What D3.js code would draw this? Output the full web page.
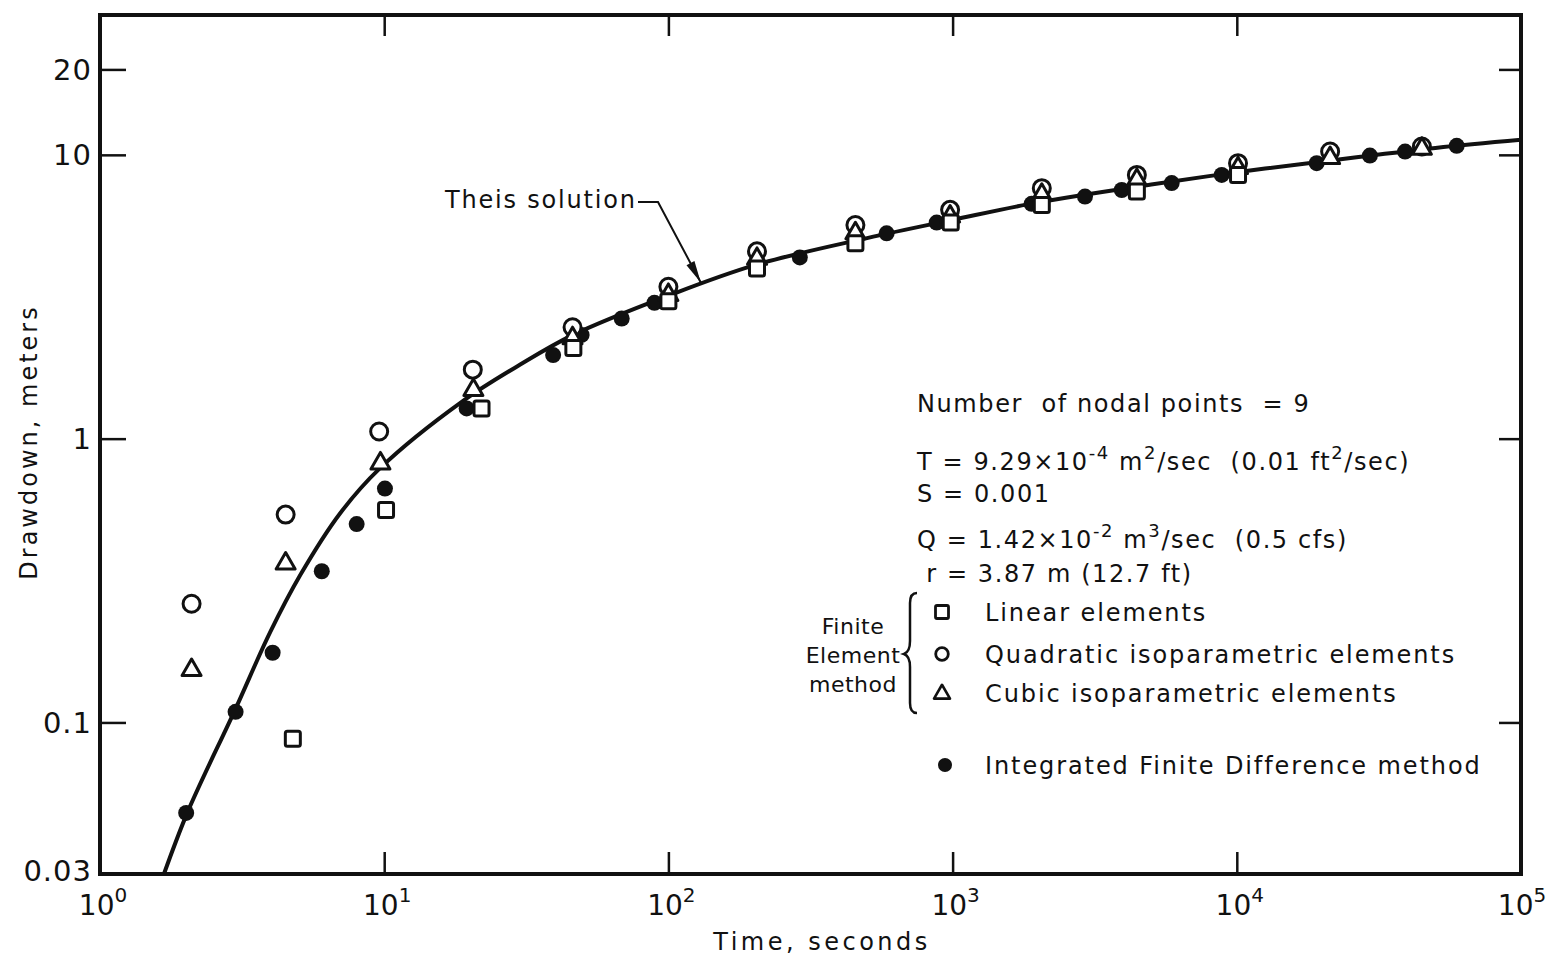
<!DOCTYPE html>
<html><head><meta charset="utf-8">
<script src="https://cdn.jsdelivr.net/npm/d3@7"></script>
<style>
body{margin:0;background:#fff;}
svg{display:block;}
text{font-family:"DejaVu Sans",sans-serif;fill:#111;}
</style></head><body>
<svg id="chart" width="1548" height="964"></svg>
<script>
// ---- Data ----
const theisTime     = [1.68, 2.04, 2.99, 3.97, 5.06, 7.0, 9.67, 18.9, 30, 46.2, 100, 200, 500, 1000, 2000, 5000, 10000, 20000, 50000, 100000];
const theisDrawdown = [0.0293, 0.0487, 0.111, 0.208, 0.330, 0.546, 0.787, 1.356, 1.82, 2.32, 3.19, 4.08, 5.09, 5.9, 6.8, 7.86, 8.68, 9.48, 10.58, 11.3];

const linearTime     = [4.77, 10.15, 22, 46.3, 100, 205, 455, 985, 2060, 4450, 10100];
const linearDrawdown = [0.0876, 0.56, 1.278, 2.085, 3.05, 3.98, 4.88, 5.77, 6.66, 7.42, 8.50];

const quadTime     = [2.1, 4.5, 9.6, 20.5, 46, 100, 205, 455, 980, 2060, 4450, 10100, 21300, 44800];
const quadDrawdown = [0.262, 0.54, 1.06, 1.75, 2.47, 3.43, 4.57, 5.66, 6.40, 7.63, 8.50, 9.35, 10.27, 10.7];

const cubicTime     = [2.1, 4.5, 9.7, 20.6, 46, 100, 205, 455, 980, 2060, 4450, 10100, 21300, 44800];
const cubicDrawdown = [0.153, 0.363, 0.818, 1.483, 2.26, 3.21, 4.30, 5.29, 6.06, 7.23, 8.16, 8.98, 9.74, 10.5];

const ifdTime     = [2.01, 3.0, 4.05, 6.03, 8.0, 10.06, 19.5, 39.3, 49.5, 68.5, 89.3, 290, 586, 879, 1897, 2923, 3937, 5902, 8850, 19100, 29400, 39100, 59400];
const ifdDrawdown = [0.048, 0.109, 0.176, 0.341, 0.50, 0.667, 1.278, 1.97, 2.32, 2.65, 3.01, 4.35, 5.29, 5.77, 6.72, 7.13, 7.52, 7.95, 8.50, 9.35, 9.94, 10.27, 10.76];

const xTickExponents = [0, 1, 2, 3, 4, 5];
const yTickValues = [0.03, 0.1, 1, 10, 20];
const yTickLabels = ["0.03", "0.1", "1", "10", "20"];
const xTitle = "Time, seconds";
const yTitle = "Drawdown, meters";
const curveLabel = "Theis solution";
const paramLines = [
  [{t:"Number  of nodal points  = 9"}],
  [{t:"T = 9.29×10"},{t:"-4",sup:true},{t:" m"},{t:"2",sup:true},{t:"/sec  (0.01 ft"},{t:"2",sup:true},{t:"/sec)"}],
  [{t:"S = 0.001"}],
  [{t:"Q = 1.42×10"},{t:"-2",sup:true},{t:" m"},{t:"3",sup:true},{t:"/sec  (0.5 cfs)"}],
  [{t:" r = 3.87 m (12.7 ft)"}]
];
const methodLabel = ["Finite", "Element", "method"];
const legendLabels = ["Linear elements", "Quadratic isoparametric elements", "Cubic isoparametric elements", "Integrated Finite Difference method"];
const legendTypes = ["square", "circle", "triangle", "dot"];

// ---- Chart ----
const svg = d3.select("#chart");
const W = 1548, L = 100, R = 1521, T = 15, B = 874;
const x = d3.scaleLog().domain([1, 1e5]).range([L, R]);
const y = d3.scaleLog().domain([0.02924, 31.1]).range([B, T]);
const ink = "#111";

svg.append("defs").append("clipPath").attr("id","plotclip")
  .append("rect").attr("x",L).attr("y",T).attr("width",R-L).attr("height",B-T);

// ticks via axes
function styleAxis(g){ g.select(".domain").remove(); g.selectAll("line").attr("stroke",ink).attr("stroke-width",2.5); }
svg.append("g").attr("transform",`translate(${L},0)`)
  .call(d3.axisLeft(y).tickValues([0.1,1,10,20]).tickSize(-26).tickFormat("")).call(styleAxis);
svg.append("g").attr("transform",`translate(${R},0)`)
  .call(d3.axisRight(y).tickValues([0.1,1,10,20]).tickSize(-22).tickFormat("")).call(styleAxis);
svg.append("g").attr("transform",`translate(0,${B})`)
  .call(d3.axisBottom(x).tickValues([10,100,1000,10000]).tickSize(-22).tickFormat("")).call(styleAxis);
svg.append("g").attr("transform",`translate(0,${T})`)
  .call(d3.axisTop(x).tickValues([10,100,1000,10000]).tickSize(-21).tickFormat("")).call(styleAxis);

// frame
svg.append("rect").attr("x",L).attr("y",T).attr("width",R-L).attr("height",B-T)
  .attr("fill","none").attr("stroke",ink).attr("stroke-width",4);

// y tick labels
svg.append("g").selectAll("text").data(yTickValues).join("text")
  .attr("x",92).attr("y",d=>y(d)).attr("dy","0.36em").attr("text-anchor","end")
  .attr("font-size",29).attr("letter-spacing",1).text((d,i)=>yTickLabels[i]);

// x tick labels
const xl = svg.append("g").selectAll("text").data(xTickExponents).join("text")
  .attr("x",d=>Math.min(x(Math.pow(10,d))+3, W-26)).attr("y",915).attr("text-anchor","middle").attr("font-size",28);
xl.append("tspan").text("10");
xl.append("tspan").attr("dy",-13).attr("font-size",20).text(d=>d);

// axis titles
svg.append("text").attr("x",822).attr("y",950).attr("text-anchor","middle")
  .attr("font-size",24).attr("letter-spacing",3.5).text(xTitle);
svg.append("text").attr("transform","translate(37,442) rotate(-90)").attr("text-anchor","middle")
  .attr("font-size",24).attr("letter-spacing",3).text(yTitle);

// Theis curve
const line = d3.line().x(d=>x(d[0])).y(d=>y(d[1])).curve(d3.curveCatmullRom.alpha(0.5));
svg.append("path").datum(theisTime.map((t,i)=>[t,theisDrawdown[i]]))
  .attr("clip-path","url(#plotclip)")
  .attr("d",line).attr("fill","none").attr("stroke",ink).attr("stroke-width",4);

// marker drawing
function drawMarkers(type, times, vals, size){
  const g = svg.append("g");
  const pts = times.map((t,i)=>[x(t), y(vals[i])]);
  if(type==="dot"){
    g.selectAll("circle").data(pts).join("circle").attr("cx",d=>d[0]).attr("cy",d=>d[1])
      .attr("r",size).attr("fill",ink);
  } else if(type==="circle"){
    g.selectAll("circle").data(pts).join("circle").attr("cx",d=>d[0]).attr("cy",d=>d[1])
      .attr("r",size).attr("fill","#fff").attr("stroke",ink).attr("stroke-width",3);
  } else if(type==="square"){
    g.selectAll("rect").data(pts).join("rect").attr("x",d=>d[0]-size/2).attr("y",d=>d[1]-size/2)
      .attr("width",size).attr("height",size).attr("rx",2).attr("fill","#fff").attr("stroke",ink).attr("stroke-width",3);
  } else {
    const sym = d3.symbol().type(d3.symbolTriangle).size(size*size*Math.sqrt(3)/4);
    g.selectAll("path").data(pts).join("path").attr("transform",d=>`translate(${d[0]},${d[1]})`)
      .attr("d",sym()).attr("fill","#fff").attr("stroke",ink).attr("stroke-width",3).attr("stroke-linejoin","round");
  }
}
drawMarkers("dot", ifdTime, ifdDrawdown, 8);
drawMarkers("circle", quadTime, quadDrawdown, 8.5);
drawMarkers("triangle", cubicTime, cubicDrawdown, 19);
drawMarkers("square", linearTime, linearDrawdown, 15);

// Theis label + arrow
svg.append("text").attr("x",445).attr("y",208).attr("font-size",24).attr("letter-spacing",1.8).text(curveLabel);
const tip = [x(130), y(3.55)];
const bend = [658, 202];
svg.append("path").attr("d",`M638,202 H${bend[0]} L${tip[0]},${tip[1]}`)
  .attr("fill","none").attr("stroke",ink).attr("stroke-width",2);
{
  const dx = tip[0]-bend[0], dy = tip[1]-bend[1], len = Math.hypot(dx,dy);
  const ux = dx/len, uy = dy/len, hl = 22, hw = 4.5;
  const bx = tip[0]-ux*hl, by = tip[1]-uy*hl;
  svg.append("path").attr("d",`M${tip[0]},${tip[1]} L${bx+uy*hw},${by-ux*hw} L${bx-uy*hw},${by+ux*hw} Z`).attr("fill",ink);
}

// parameter text
const paramY = [412, 470, 502, 548, 582];
paramLines.forEach((segs,i)=>{
  const t = svg.append("text").attr("x",917).attr("y",paramY[i]).attr("font-size",24)
    .attr("letter-spacing",1.6).style("white-space","pre");
  let up = false;
  segs.forEach(s=>{
    const ts = t.append("tspan").text(s.t);
    if(s.sup && !up){ ts.attr("dy",-11).attr("font-size",18); up = true; }
    else if(s.sup){ ts.attr("font-size",18); }
    else if(up){ ts.attr("dy",11); up = false; }
  });
});

// method label + brace
const methodY = [634, 663, 692];
svg.append("g").selectAll("text").data(methodLabel).join("text")
  .attr("x",853).attr("y",(d,i)=>methodY[i]).attr("text-anchor","middle")
  .attr("font-size",22).attr("letter-spacing",0.5).text(d=>d);
svg.append("path").attr("d","M917,593 Q910,593 910,603 L910,641 Q910,652 904,654 Q910,656 910,667 L910,703 Q910,713 917,713")
  .attr("fill","none").attr("stroke",ink).attr("stroke-width",2.5);

// legend
const legY = [612, 654, 693, 765];
const legX = [942, 942, 942, 945];
legendTypes.forEach((tp,i)=>{
  const cx = legX[i], cy = legY[i];
  if(tp==="square") svg.append("rect").attr("x",cx-6.5).attr("y",cy-6.5).attr("width",13).attr("height",13).attr("rx",1.5)
      .attr("fill","#fff").attr("stroke",ink).attr("stroke-width",2.8);
  else if(tp==="circle") svg.append("circle").attr("cx",cx).attr("cy",cy).attr("r",6.3)
      .attr("fill","#fff").attr("stroke",ink).attr("stroke-width",2.8);
  else if(tp==="triangle") svg.append("path").attr("transform",`translate(${cx},${cy+1})`)
      .attr("d",d3.symbol().type(d3.symbolTriangle).size(16*16*Math.sqrt(3)/4)()).attr("fill","#fff")
      .attr("stroke",ink).attr("stroke-width",2.6).attr("stroke-linejoin","round");
  else svg.append("circle").attr("cx",cx).attr("cy",cy).attr("r",7).attr("fill",ink);
  svg.append("text").attr("x",985).attr("y",cy+9).attr("font-size",24).attr("letter-spacing",1.9).text(legendLabels[i]);
});
</script>
</body></html>
